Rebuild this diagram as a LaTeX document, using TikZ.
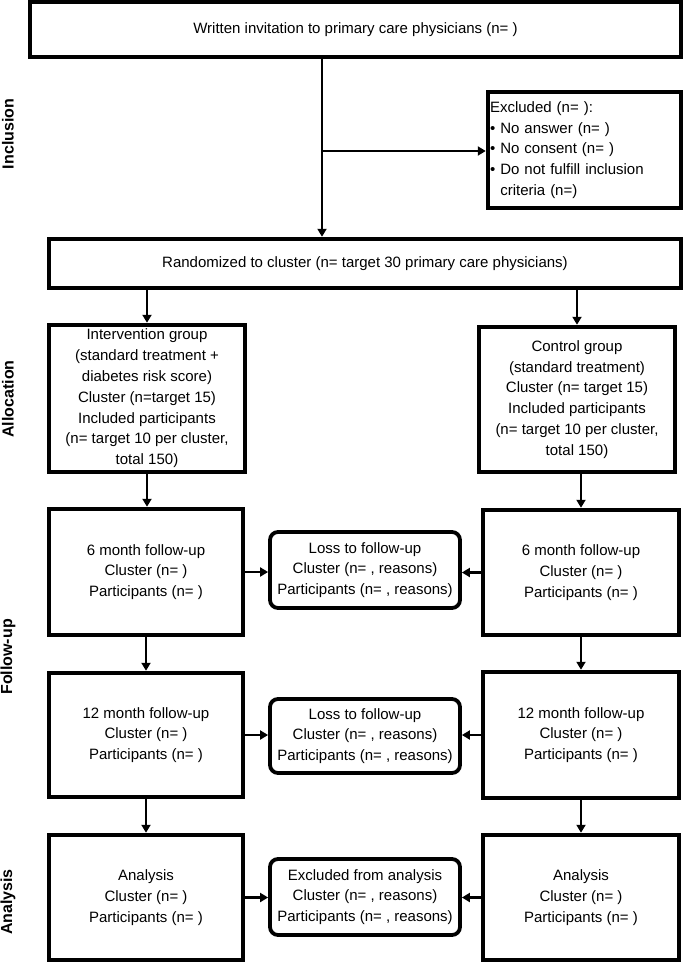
\documentclass[tikz,border=0pt]{standalone}
\usepackage{fontspec}
\setmainfont{Liberation Sans}
\usetikzlibrary{arrows.meta}

\tikzset{
  box/.style={draw=black, line width=4.5pt, align=center, inner sep=0pt,
    font=\fontsize{15}{20.8}\selectfont},
  lossbox/.style={box, line width=3.8pt, rounded corners=8pt},
  flow/.style={draw=black, line width=2.8pt, -{Triangle[length=8pt,width=9pt]}},
  phase/.style={rotate=90, font=\bfseries\fontsize{16}{19}\selectfont}
}

\begin{document}
\begin{tikzpicture}[x=1pt, y=-1pt]
    \useasboundingbox (0,0) rectangle (685,964);
    % inclusion
    \node[box, minimum width=651pt, minimum height=55pt] (invite) at (355.5,29.5)
        {Written invitation to primary care physicians (n= )};
    \node[box, minimum width=193pt, minimum height=116pt, align=left, text width=189pt] (excl) at (584.5,150)
        {Excluded (n= ):\\
         \textbullet\ No answer (n= )\\
         \textbullet\ No consent (n= )\\
         \textbullet\ Do not fulfill inclusion\\
         \phantom{\textbullet\ }criteria (n=)};
    \node[box, minimum width=632pt, minimum height=49pt] (rand) at (365,263.5)
        {Randomized to cluster (n= target 30 primary care physicians)};
    % allocation
    \node[box, minimum width=196pt, minimum height=147pt] (interv) at (147,398.5)
        {Intervention group\\(standard treatment +\\diabetes risk score)\\Cluster (n=target 15)\\Included participants\\(n= target 10 per cluster,\\total 150)};
    \node[box, minimum width=196pt, minimum height=145pt] (ctrl) at (577,399.5)
        {Control group\\(standard treatment)\\Cluster (n= target 15)\\Included participants\\(n= target 10 per cluster,\\total 150)};
    % follow-up
    \node[box, minimum width=194pt, minimum height=126pt] (sixL) at (146,572)
        {6 month follow-up\\Cluster (n= )\\Participants (n= )};
    \node[box, minimum width=196pt, minimum height=125pt] (sixR) at (581,572.5)
        {6 month follow-up\\Cluster (n= )\\Participants (n= )};
    \node[lossbox, minimum width=190pt, minimum height=76pt] (lossA) at (365,570)
        {Loss to follow-up\\Cluster (n= , reasons)\\Participants (n= , reasons)};
    \node[box, minimum width=194pt, minimum height=124pt] (twelveL) at (146,735)
        {12 month follow-up\\Cluster (n= )\\Participants (n= )};
    \node[box, minimum width=196pt, minimum height=126pt] (twelveR) at (581,735)
        {12 month follow-up\\Cluster (n= )\\Participants (n= )};
    \node[lossbox, minimum width=190pt, minimum height=74pt] (lossB) at (365,736)
        {Loss to follow-up\\Cluster (n= , reasons)\\Participants (n= , reasons)};
    % analysis
    \node[box, minimum width=194pt, minimum height=125pt] (anaL) at (146,897.5)
        {Analysis\\Cluster (n= )\\Participants (n= )};
    \node[box, minimum width=196pt, minimum height=125pt] (anaR) at (581,897.5)
        {Analysis\\Cluster (n= )\\Participants (n= )};
    \node[lossbox, minimum width=190pt, minimum height=76pt] (exclA) at (365,897)
        {Excluded from analysis\\Cluster (n= , reasons)\\Participants (n= , reasons)};
    % phase labels
    \node[phase] (lblInc) at (8,134) {Inclusion};
    \node[phase] (lblAll) at (8,399) {Allocation};
    \node[phase] (lblFol) at (8,657) {Follow-up};
    \node[phase] (lblAna) at (8,902) {Analysis};
    % arrows
    \coordinate (split) at (322,151);
    \draw[flow] (split |- invite.south) -- (split |- rand.north);
    \draw[flow, line width=2.3pt] (split) -- (split -| excl.west);
    \draw[flow] (interv.north |- rand.south) -- (interv.north);
    \draw[flow] (ctrl.north |- rand.south) -- (ctrl.north);
    \draw[flow] (interv.south) -- (interv.south |- sixL.north);
    \draw[flow] (sixR.north |- ctrl.south) -- (sixR.north);
    \draw[flow] (sixL.south) -- (sixL.south |- twelveL.north);
    \draw[flow] (sixR.south) -- (sixR.south |- twelveR.north);
    \draw[flow] (twelveL.south) -- (twelveL.south |- anaL.north);
    \draw[flow] (twelveR.south) -- (twelveR.south |- anaR.north);
    \draw[flow] (sixL.east) -- (sixL.east -| lossA.west);
    \draw[flow] (sixR.west) -- (sixR.west -| lossA.east);
    \draw[flow] (twelveL.east) -- (twelveL.east -| lossB.west);
    \draw[flow] (twelveR.west) -- (twelveR.west -| lossB.east);
    \draw[flow] (anaL.east) -- (anaL.east -| exclA.west);
    \draw[flow] (anaR.west) -- (anaR.west -| exclA.east);
\end{tikzpicture}
\end{document}
